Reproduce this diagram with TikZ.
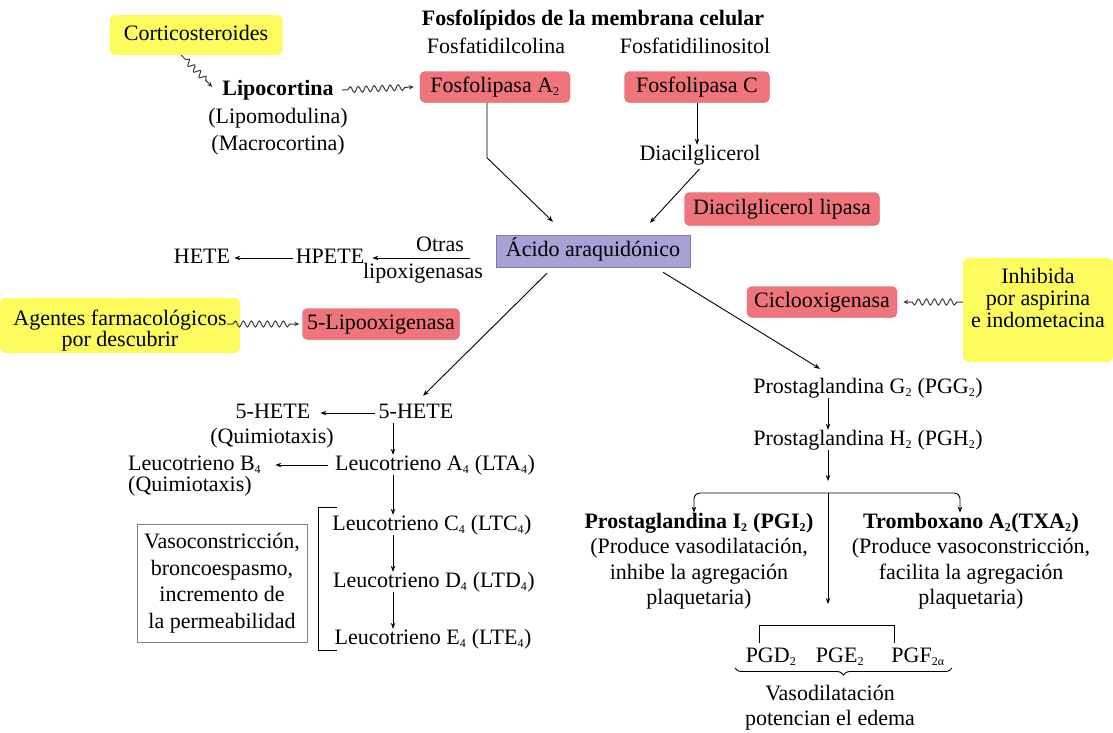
\documentclass[tikz,border=0pt]{standalone}
\usepackage{fontspec}
\setmainfont{Liberation Serif}
\usetikzlibrary{arrows.meta,decorations.pathmorphing,decorations.pathreplacing,calc}
\definecolor{redfill}{RGB}{240,116,124}
\definecolor{redline}{RGB}{214,92,102}
\definecolor{yel}{RGB}{252,252,95}
\definecolor{lav}{RGB}{166,162,214}
\definecolor{lavline}{RGB}{125,122,165}
\definecolor{wav}{RGB}{60,60,60}
\newcommand{\sbs}[1]{\textsubscript{\fontsize{12}{12}\selectfont #1}}
\begin{document}
\begin{tikzpicture}[x=1pt,y=-1pt,
 every node/.style={font=\fontsize{22}{25.5}\selectfont, inner sep=0pt},
 bold/.style={font=\fontsize{22}{25.5}\selectfont\bfseries},
 lbl/.style={text height=15pt, text depth=5pt},
 redbox/.style={fill=redfill, draw=redline, rounded corners=5pt, minimum height=31pt},
 yelbox/.style={fill=yel, rounded corners=6pt},
 arr/.style={-{Stealth[length=6pt,width=4.5pt]}, line width=0.9pt},
 plain/.style={line width=0.9pt},
 wavy/.style={wav, line width=1pt, decorate, decoration={snake, amplitude=3pt, segment length=8pt, pre length=6pt, post length=7pt}, -{Stealth[length=5pt,width=4.5pt]}},
 ]
\path[use as bounding box] (0,0) rectangle (1113,732);

% ---------- top ----------
\node[bold,lbl] (title) at (593,20) {Fosfolípidos de la membrana celular};
\node[yelbox,lbl,minimum width=173pt,minimum height=40pt] (cort) at (196,35) {Corticosteroides};
\node[bold,lbl] (lipo) at (278,90) {Lipocortina};
\node[lbl] (lipom) at (278,118) {(Lipomodulina)};
\node[lbl] (macro) at (278,145) {(Macrocortina)};
\node[lbl] (fcol) at (496,48) {Fosfatidilcolina};
\node[lbl] (fino) at (695,48) {Fosfatidilinositol};
\node[redbox,lbl,minimum width=150pt] (pla2) at (495,87) {Fosfolipasa A\sbs{2}};
\node[redbox,lbl,minimum width=145pt] (plc) at (697,87) {Fosfolipasa C};
\node[lbl] (dag) at (700,155) {Diacilglicerol};
\node[redbox,lbl,minimum width=195pt,minimum height=33pt] (dagl) at (782,209) {Diacilglicerol lipasa};
\node[fill=lav,draw=lavline,lbl,minimum width=194pt,minimum height=32pt] (aa) at (593,251) {Ácido araquidónico};

% ---------- middle left ----------
\node[lbl] (hpete) at (330,258) {HPETE};
\node[lbl] (hete) at (202,258) {HETE};
\node[lbl] (otras) at (440,246) {Otras};
\node[lbl] (lipox) at (423,273) {lipoxigenasas};
\fill[yel, rounded corners=6pt] (0,298) rectangle (240,353);
\node[align=center,font=\fontsize{22}{21}\selectfont] (agent) at (120,331) {Agentes farmacológicos\\por descubrir};
\node[redbox,lbl,minimum width=157pt] (lox5) at (381,324) {5-Lipooxigenasa};

% ---------- middle right ----------
\node[redbox,lbl,minimum width=150pt] (cox) at (822,302) {Ciclooxigenasa};
\fill[yel, rounded corners=6pt] (963,258) rectangle (1113,362);
\node[align=center,font=\fontsize{22}{22}\selectfont] (inhib) at (1038,298) {Inhibida\\por aspirina\\e indometacina};

% ---------- left branch ----------
\coordinate (xl) at (393,0);
\node[lbl] (h5b) at (273,413) {5-HETE};
\node[lbl] (h5a) at (416,413) {5-HETE};
\node[lbl] (quim1) at (272,438) {(Quimiotaxis)};
\node[lbl] (lta) at (435,465) {Leucotrieno A\sbs{4} (LTA\sbs{4})};
\node[align=left,anchor=west,font=\fontsize{22}{21}\selectfont] (ltb) at (128,476) {Leucotrieno B\sbs{4}\\(Quimiotaxis)};
\node[lbl] (ltc) at (432,525) {Leucotrieno C\sbs{4} (LTC\sbs{4})};
\node[lbl] (ltd) at (434,582) {Leucotrieno D\sbs{4} (LTD\sbs{4})};
\node[lbl] (lte) at (433,639) {Leucotrieno E\sbs{4} (LTE\sbs{4})};
\node[draw=gray,align=center,minimum width=170pt,minimum height=118pt,font=\fontsize{22}{26.5}\selectfont] (vbox) at (222,583) {Vasoconstricción,\\broncoespasmo,\\incremento de\\la permeabilidad};

% ---------- right branch ----------
\coordinate (xr) at (828,0);
\node[lbl] (pgg) at (868,388) {Prostaglandina G\sbs{2} (PGG\sbs{2})};
\node[lbl] (pgh) at (868,440) {Prostaglandina H\sbs{2} (PGH\sbs{2})};
\coordinate (split) at (828,493);
\node[align=center] (pgi) at (699,561) {\textbf{Prostaglandina I\sbs{2} (PGI\sbs{2})}\\(Produce vasodilatación,\\inhibe la agregación\\plaquetaria)};
\node[align=center] (txa) at (971,561) {\textbf{Tromboxano A\sbs{2}(TXA\sbs{2})}\\(Produce vasoconstricción,\\facilita la agregación\\plaquetaria)};
\coordinate (spend) at (828,604);
\node[lbl] (pgd) at (771,657) {PGD\sbs{2}};
\node[lbl] (pge) at (840,657) {PGE\sbs{2}};
\node[lbl] (pgf) at (918,657) {PGF\sbs{2α}};
\node[align=center,font=\fontsize{22}{25}\selectfont] (vaso) at (830,708) {Vasodilatación\\potencian el edema};

% ---------- connectors ----------
\draw[wavy] ([xshift=72pt]cort.south west) -- ($(lipo.west)+(-10,-3)$);
\draw[wavy] ($(lipo.east)+(8,0)$) -- ($(pla2.west)+(-6,0)$);
\draw[wavy] (agent.east |- lox5.west) -- ($(lox5.west)+(-3,0)$);
\draw[wavy] ($(inhib.west |- cox.east)+(-8,0)$) -- ($(cox.east)+(6,0)$);

\draw[arr] ([xshift=-8pt]pla2.south) -- ++(0,55) -- ([xshift=-40pt,yshift=13pt]aa.north);
\draw[arr] (plc.south) -- (plc.south |- dag.north);
\draw[arr,shorten <=5pt] ([xshift=3pt]dag.south) -- ([xshift=57pt,yshift=12pt]aa.north);
\draw[arr] ($(aa.west |- hpete.east)+(-26,0)$) -- ($(hpete.east)+(8,0)$);
\draw[arr] ($(hpete.west)+(-3,0)$) -- ($(hete.east)+(4,0)$);
\draw[arr,shorten >=10pt] ([xshift=-46pt,yshift=-6pt]aa.south) -- (h5a.north);
\draw[arr] ([xshift=70pt,yshift=-5pt]aa.south) -- ($(pgg.north)+(-48,-9)$);

\draw[arr] ($(h5a.west)+(-4,0)$) -- ($(h5b.east)+(10,0)$);
\draw[arr] (h5a.south -| xl) -- (lta.north -| xl);
\draw[arr,shorten <=7pt,shorten >=14pt] (lta.west) -- (lta.west -| ltb.east);
\draw[arr] (lta.south -| xl) -- (ltc.north -| xl);
\draw[arr] (ltc.south -| xl) -- (ltd.north -| xl);
\draw[arr] (ltd.south -| xl) -- (lte.north -| xl);
\draw[plain] (337,507) -| (318,650) -- (337,650);

\draw[arr] (pgg.south -| xr) -- (pgh.north -| xr);
\draw[arr] (pgh.south -| xr) -- ([yshift=12pt]split);
\draw[arr,rounded corners=6pt] (split) -| ([xshift=-5pt]pgi.north);
\draw[arr,rounded corners=6pt] (split) -| ([xshift=-11pt]txa.north);
\draw[arr] (split) -- (spend);
\draw[plain] (759,643) |- (894,625) -- (894,643);
\draw[plain,decorate,decoration={brace,mirror,amplitude=7pt}] (735,668) -- (952,668);
\end{tikzpicture}
\end{document}
